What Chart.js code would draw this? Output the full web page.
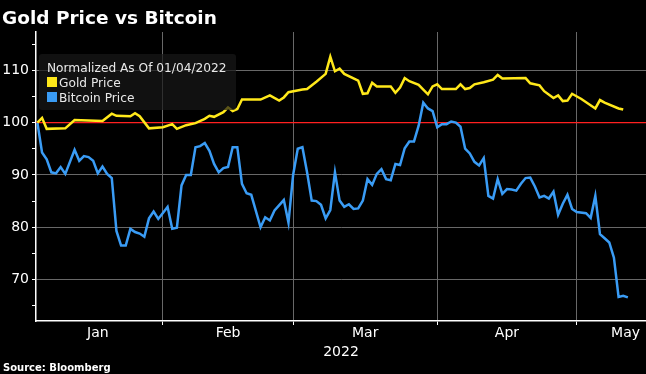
<!DOCTYPE html>
<html>
<head>
<meta charset="utf-8">
<script src="https://cdn.jsdelivr.net/npm/chart.js@4.4.1/dist/chart.umd.min.js"></script>
<style>
  body { margin: 0; background: #000; width: 646px; height: 374px; overflow: hidden; position: relative; font-family: "DejaVu Sans", sans-serif; }
  canvas { position: absolute; left: 0; top: 0; }
  #title { position: absolute; left: 2px; top: 7px; color: #fff; font-weight: bold; font-size: 18.5px; line-height: normal; }
  #source { position: absolute; left: 3px; top: 362px; color: #fff; font-weight: bold; font-size: 10px; line-height: normal; }
  #legend { position: absolute; left: 39px; top: 54px; width: 197px; height: 56px; box-sizing: border-box; padding: 7px 0 0 8px; border-radius: 3px;
            white-space: nowrap; background: rgba(24, 24, 24, 0.7); color: #e8e8e8; font-size: 12.2px; line-height: 15px; }
  .sw { display: inline-block; width: 10px; height: 10px; margin-right: 2px; }
</style>
</head>
<body>
<canvas id="chart" width="646" height="374"></canvas>
<div id="title">Gold Price vs Bitcoin</div>
<div id="legend">
  <div>Normalized As Of 01/04/2022</div>
  <div><span class="sw" style="background:#ffe81a"></span>Gold Price</div>
  <div><span class="sw" style="background:#3a9cf5"></span>Bitcoin Price</div>
</div>
<div id="source">Source: Bloomberg</div>
<script>
// x values are day of year 2022 (Jan 4 = 4)
const goldDays = [4, 5, 6, 10, 12, 18, 20, 21, 24, 25, 26, 28, 31, 33, 34, 36, 38, 40, 41, 42,
  44, 45, 46, 47, 48, 52, 54, 56, 57, 58, 61, 62, 64, 66, 67, 68, 69, 70, 73, 74,
  75, 76, 77, 80, 81, 82, 83, 84, 86, 87, 88, 89, 90, 91, 94, 95, 96, 97, 98, 100,
  102, 103, 104, 109, 110, 112, 113, 115, 116, 117, 118, 119, 121, 124, 125, 126, 129, 130];
const goldValues = [100, 100.9, 98.8, 98.9, 100.5, 100.3, 101.7, 101.3, 101.2, 101.8, 101.2, 98.9, 99.1, 99.7, 98.8, 99.5, 99.9, 100.7, 101.3, 101.1,
  102.0, 102.9, 102.2, 102.6, 104.4, 104.4, 105.2, 104.2, 104.8, 105.8, 106.3, 106.4, 107.8, 109.3, 112.6, 109.8, 110.3, 109.3, 108.0, 105.5,
  105.6, 107.6, 106.9, 106.9, 105.7, 106.7, 108.5, 107.9, 107.2, 106.3, 105.4, 106.9, 107.3, 106.4, 106.4, 107.3, 106.4, 106.6, 107.3, 107.7,
  108.2, 109.1, 108.4, 108.5, 107.5, 107.1, 106.0, 104.7, 105.2, 104.1, 104.2, 105.5, 104.5, 102.7, 104.3, 103.8, 102.7, 102.5];

const btcDays = [4, 5, 6, 7, 8, 9, 10, 12, 13, 14, 15, 16, 17, 18, 19, 20, 21, 22, 23, 24,
  25, 26, 27, 28, 29, 30, 32, 33, 34, 35, 36, 37, 38, 39, 40, 41, 42, 43, 44, 45,
  46, 47, 48, 49, 50, 52, 53, 54, 55, 57, 58, 59, 60, 61, 62, 63, 64, 65, 66, 67,
  68, 69, 70, 71, 72, 73, 74, 75, 76, 77, 78, 79, 80, 81, 82, 83, 84, 85, 86, 87,
  88, 89, 90, 91, 92, 93, 94, 95, 96, 97, 98, 99, 100, 101, 102, 103, 104, 105, 106, 107,
  108, 109, 110, 111, 112, 113, 114, 115, 116, 117, 118, 119, 120, 122, 123, 124, 125, 126, 127, 128,
  129, 130, 131];
const btcValues = [100, 94.3, 93.0, 90.5, 90.3, 91.5, 90.2, 94.8, 92.7, 93.6, 93.4, 92.7, 90.3, 91.6, 90.2, 89.4, 79.3, 76.5, 76.5, 79.7,
  79.1, 78.8, 78.2, 81.7, 83.0, 81.6, 83.9, 79.7, 79.9, 88.0, 90.0, 90.0, 95.3, 95.5, 96.1, 94.6, 92.1, 90.5, 91.3, 91.5,
  95.3, 95.3, 88.3, 86.5, 86.2, 80.0, 81.9, 81.3, 83.2, 85.2, 80.9, 90.0, 95.0, 95.3, 90.5, 85.1, 85.0, 84.3, 81.7, 83.3,
  90.5, 85.1, 83.9, 84.4, 83.5, 83.6, 85.1, 89.2, 88.1, 90.2, 91.1, 89.2, 89.0, 92.1, 91.9, 95.1, 96.4, 96.4, 99.4, 103.8,
  102.7, 102.2, 99.1, 99.7, 99.7, 100.2, 100.0, 99.2, 95.0, 94.1, 92.5, 91.8, 93.2, 86.0, 85.5, 89.2, 86.4, 87.3, 87.2, 87.0,
  88.3, 89.4, 89.5, 87.8, 85.7, 86.0, 85.5, 86.8, 82.4, 84.5, 86.2, 83.5, 82.9, 82.7, 81.8, 86.0, 78.7, 77.9, 77.1, 74.2,
  66.7, 66.9, 66.6];

const monthNames = ['Jan', 'Feb', 'Mar', 'Apr', 'May'];
const monthLabelDays = [17, 45, 74.5, 105, 130.5];
const monthEnds = [31, 59, 90, 120];
const yTicks = [65, 70, 75, 80, 85, 90, 95, 100, 105, 110, 115];
const baseValue = 100;

const goldColor = '#ffe81a';
const btcColor = '#3a9cf5';
const gridColor = '#686868';
const axisFont = { family: 'DejaVu Sans', size: 14 };

function toPoints(days, values) {
  return days.map((d, i) => ({ x: d, y: values[i] }));
}

// red line at 100
const baseLine = {
  id: 'baseLine',
  beforeDatasetsDraw(chart) {
    const { ctx, chartArea, scales } = chart;
    const py = scales.y.getPixelForValue(baseValue);
    ctx.save();
    ctx.strokeStyle = '#ff2020';
    ctx.lineWidth = 1.2;
    ctx.beginPath();
    ctx.moveTo(chartArea.left, py);
    ctx.lineTo(chartArea.right, py);
    ctx.stroke();
    ctx.restore();
  }
};

new Chart(document.getElementById('chart'), {
  type: 'line',
  data: {
    datasets: [
      { label: 'Gold Price', data: toPoints(goldDays, goldValues), borderColor: goldColor, borderWidth: 2.5, pointRadius: 0, tension: 0 },
      { label: 'Bitcoin Price', data: toPoints(btcDays, btcValues), borderColor: btcColor, borderWidth: 2.5, pointRadius: 0, tension: 0 }
    ]
  },
  options: {
    responsive: false,
    animation: false,
    layout: { padding: { top: 32, bottom: 12, left: 0, right: 0 } },
    plugins: { legend: { display: false }, tooltip: { enabled: false } },
    scales: {
      x: {
        type: 'linear',
        min: 3.7,
        max: 134.9,
        afterBuildTicks: s => {
          s.ticks = monthEnds.concat(monthLabelDays).sort((a, b) => a - b).map(v => ({ value: v }));
        },
        afterFit: s => { s.height = 41; },
        ticks: {
          autoSkip: false,
          maxRotation: 0,
          padding: 0,
          color: '#fff',
          font: axisFont,
          callback: v => {
            const i = monthLabelDays.indexOf(v);
            return i >= 0 ? monthNames[i] : '';
          }
        },
        grid: {
          color: ctx => monthEnds.includes(ctx.tick.value) ? gridColor : 'transparent',
          tickColor: ctx => monthEnds.includes(ctx.tick.value) ? '#fff' : 'transparent',
          tickLength: 4
        },
        border: { color: '#fff', width: 1.5 },
        title: { display: true, text: '2022', color: '#fff', font: axisFont, padding: { top: 2, bottom: 1 } }
      },
      y: {
        min: 62.1,
        max: 117.3,
        afterBuildTicks: s => { s.ticks = yTicks.map(v => ({ value: v })); },
        afterFit: s => { s.width = 36; },
        ticks: {
          padding: 3,
          color: '#fff',
          font: axisFont,
          callback: v => v % 10 === 0 ? String(v) : ''
        },
        grid: {
          color: ctx => (ctx.tick.value % 10 === 0 && ctx.tick.value !== baseValue) ? gridColor : 'transparent',
          tickColor: '#fff',
          tickLength: 4
        },
        border: { color: '#fff', width: 1.5 }
      }
    }
  },
  plugins: [baseLine]
});
</script>
</body>
</html>
